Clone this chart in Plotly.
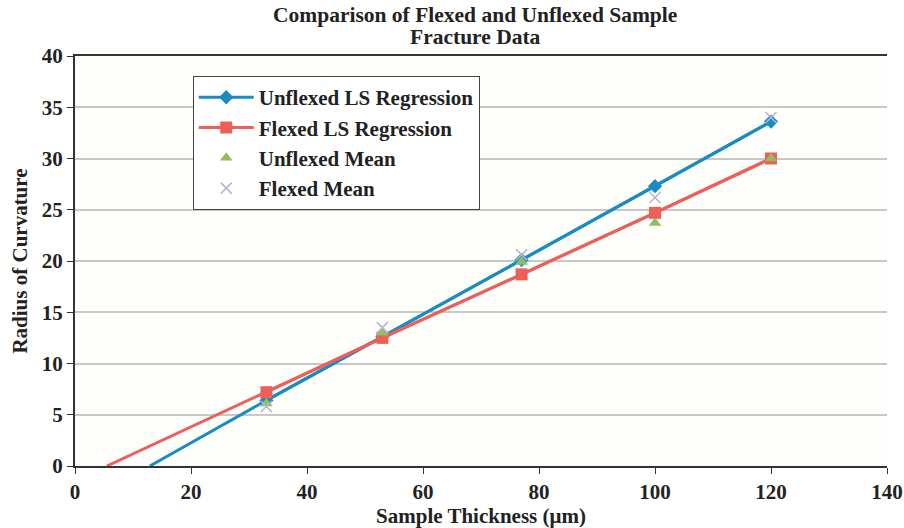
import plotly.graph_objects as go

# Data
thickness = [33, 53, 77, 100, 120]
unflexed_fit_x = [12.9, 33, 53, 77, 100, 120]
unflexed_fit_y = [0.0, 6.4, 12.6, 20.1, 27.3, 33.6]
flexed_fit_x = [5.5, 33, 53, 77, 100, 120]
flexed_fit_y = [0.0, 7.2, 12.5, 18.7, 24.7, 30.0]
unflexed_reg = [6.4, 12.6, 20.1, 27.3, 33.6]
flexed_reg = [7.2, 12.5, 18.7, 24.7, 30.0]
unflexed_mean = [6.1, 13.0, 19.9, 23.7, 30.0]
flexed_mean = [5.8, 13.5, 20.6, 26.2, 34.0]
title_lines = ["Comparison of Flexed and Unflexed Sample", "Fracture Data"]

BLUE = "#1a8cc2"
RED = "#ef5f5a"
GREEN = "#8cc063"
LAV = "#b4b4d4"
FONT = "Liberation Serif, Times New Roman, serif"

fig = go.Figure()
fig.add_trace(go.Scatter(x=unflexed_fit_x, y=unflexed_fit_y, mode="lines",
                         line=dict(color=BLUE, width=3), showlegend=False, hoverinfo="skip"))
fig.add_trace(go.Scatter(x=thickness, y=unflexed_reg, mode="lines+markers",
                         name="Unflexed LS Regression",
                         line=dict(color=BLUE, width=3),
                         marker=dict(symbol="diamond", size=11, color=BLUE)))
fig.add_trace(go.Scatter(x=flexed_fit_x, y=flexed_fit_y, mode="lines",
                         line=dict(color=RED, width=3), showlegend=False, hoverinfo="skip"))
fig.add_trace(go.Scatter(x=thickness, y=flexed_reg, mode="lines+markers",
                         name="Flexed LS Regression",
                         line=dict(color=RED, width=3),
                         marker=dict(symbol="square", size=12, color=RED)))
fig.add_trace(go.Scatter(x=thickness, y=unflexed_mean, mode="markers",
                         name="Unflexed Mean",
                         marker=dict(symbol="triangle-up", size=11, color=GREEN)))
fig.add_trace(go.Scatter(x=thickness, y=flexed_mean, mode="markers",
                         name="Flexed Mean",
                         marker=dict(symbol="x-thin", size=11, color=LAV,
                                     line=dict(color=LAV, width=1.5))))

title_font = dict(family=FONT, size=21.5, color="#222222", weight="bold")
fig.update_layout(
    width=904, height=528,
    margin=dict(l=75, r=17, t=56, b=62),
    paper_bgcolor="white",
    plot_bgcolor="#fefefb",
    font=dict(family=FONT, size=20, color="#222222", weight="bold"),
    annotations=[
        dict(text=title_lines[0], xref="paper", yref="paper", x=0.493, y=1,
             yanchor="middle", xanchor="center", showarrow=False, yshift=41,
             font=title_font),
        dict(text=title_lines[1], xref="paper", yref="paper", x=0.493, y=1,
             yanchor="middle", xanchor="center", showarrow=False, yshift=19,
             font=title_font),
    ],
    legend=dict(x=0.145, y=0.951, xanchor="left", yanchor="top",
                bgcolor="white", bordercolor="#444444", borderwidth=1,
                itemwidth=55,
                font=dict(family=FONT, size=21, color="#222222", weight="bold")),
    xaxis=dict(range=[0, 140], tickvals=[0, 20, 40, 60, 80, 100, 120, 140],
               showgrid=False, zeroline=False, automargin=False,
               showline=True, linecolor="#333333", linewidth=2, mirror=True,
               ticks="outside", ticklen=6, tickcolor="#333333",
               tickfont=dict(family=FONT, size=21, weight="bold"),
               title=dict(text="Sample Thickness (μm)", standoff=2,
                          font=dict(family=FONT, size=21, weight="bold"))),
    yaxis=dict(range=[0, 40], tickvals=[0, 5, 10, 15, 20, 25, 30, 35, 40],
               showgrid=True, gridcolor="#c8c8c8", gridwidth=1.5, zeroline=False,
               automargin=False,
               showline=True, linecolor="#333333", linewidth=2,
               ticks="outside", ticklen=6, tickcolor="#333333",
               tickfont=dict(family=FONT, size=21, weight="bold"),
               title=dict(text="Radius of Curvature", standoff=8,
                          font=dict(family=FONT, size=21, weight="bold"))),
)

fig.write_html("out.html", config={"displayModeBar": False},
               post_script="document.body.style.margin='0';")
